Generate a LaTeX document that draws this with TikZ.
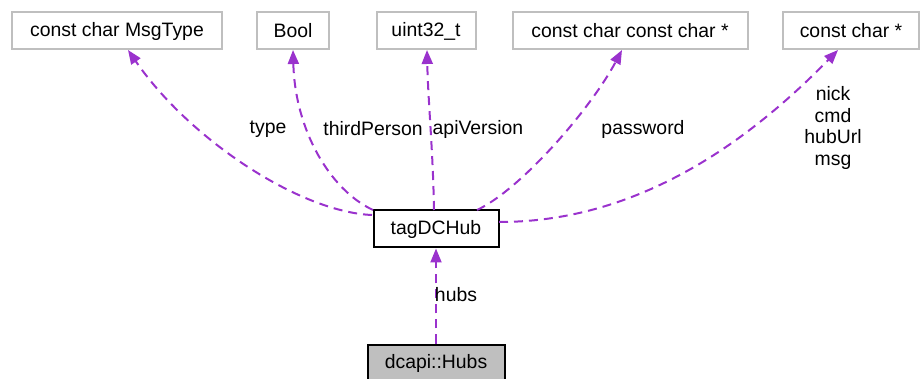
\documentclass[tikz,border=0pt]{standalone}
\usepackage{fontspec}
\setmainfont{Liberation Sans}
\usetikzlibrary{arrows.meta}
\definecolor{edgec}{HTML}{9A32CD}
\definecolor{boxgray}{HTML}{BFBFBF}
\tikzset{
  every node/.style={font=\fontsize{19.4}{21.5}\selectfont},
  typebox/.style={draw=boxgray, line width=2pt, fill=white, inner sep=0pt, minimum height=37pt},
  mainbox/.style={draw=black, line width=2pt, fill=white, inner sep=0pt, minimum height=37pt},
  rootbox/.style={draw=black, line width=2pt, fill=boxgray, inner sep=0pt, minimum height=37pt},
  member/.style={draw=edgec, line width=2pt, dash pattern=on 9pt off 6pt, -{Triangle[length=14pt,width=11pt]}},
  lbl/.style={inner sep=0pt, align=center}
}
\begin{document}
\begin{tikzpicture}[x=1pt, y=-1pt]
\useasboundingbox (0,0) rectangle (921,379);
\node[typebox, minimum width=210pt] (msgtype) at (117,31) {const char MsgType};
\node[typebox, minimum width=72pt] (bool) at (293,31) {Bool};
\node[typebox, minimum width=99pt] (uint) at (426,31) {uint32\_t};
\node[typebox, minimum width=235pt] (ccc) at (630,31) {const char const char *};
\node[typebox, minimum width=136pt] (cc) at (851,31) {const char *};
\node[mainbox, minimum width=125pt] (hub) at (436,229) {tagDCHub};
\node[rootbox, minimum width=137pt] (hubs) at (436,363) {dcapi::Hubs};

\coordinate (t1) at (128,50);
\coordinate (t2) at (293,50);
\coordinate (t3) at (427,50);
\coordinate (t4) at (622,50);
\coordinate (t5) at (838,50);
\coordinate (s1) at (372,215);
\coordinate (s2) at (373,210);
\coordinate (s3) at (434,210);
\coordinate (s4) at (477,210);
\coordinate (s5) at (499,222);

\draw[member] (s1) .. controls (300,212) and (190,140) .. (t1);
\draw[member] (s2) .. controls (330,190) and (295,130) .. (t2);
\draw[member] (s3) .. controls (433,150) and (428,100) .. (t3);
\draw[member] (s4) .. controls (520,190) and (590,110) .. (t4);
\draw[member] (s5) .. controls (640,222) and (750,140) .. (t5);
\draw[member] (hubs.north) -- (hub.south);

\node[lbl] (l1) at (268,129) {type};
\node[lbl] (l2) at (373,129) {thirdPerson};
\node[lbl] (l3) at (478,129) {apiVersion};
\node[lbl] (l4) at (643,129) {password};
\node[lbl] (l5) at (833,128) {nick\\cmd\\hubUrl\\msg};
\node[lbl] (l6) at (456,295) {hubs};
\end{tikzpicture}
\end{document}
